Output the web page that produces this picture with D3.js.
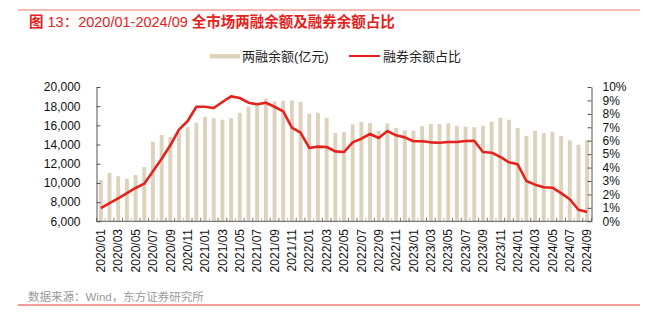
<!DOCTYPE html>
<html><head><meta charset="utf-8">
<script src="https://cdn.jsdelivr.net/npm/d3@7"></script>
<style>
html,body{margin:0;padding:0;background:#fff;}
svg{display:block;font-family:"Liberation Sans","Noto Sans CJK SC",sans-serif;}
</style></head>
<body><svg id="c" width="646" height="322"></svg>
<script>
const months = ["2020/01","2020/02","2020/03","2020/04","2020/05","2020/06","2020/07","2020/08","2020/09","2020/10","2020/11","2020/12",
"2021/01","2021/02","2021/03","2021/04","2021/05","2021/06","2021/07","2021/08","2021/09","2021/10","2021/11","2021/12",
"2022/01","2022/02","2022/03","2022/04","2022/05","2022/06","2022/07","2022/08","2022/09","2022/10","2022/11","2022/12",
"2023/01","2023/02","2023/03","2023/04","2023/05","2023/06","2023/07","2023/08","2023/09","2023/10","2023/11","2023/12",
"2024/01","2024/02","2024/03","2024/04","2024/05","2024/06","2024/07","2024/08","2024/09"];
const marginBalance = [10300,11050,10700,10450,10820,11650,14300,15000,14800,15270,15830,16270,
16900,16760,16590,16760,17320,17940,18150,18780,18500,18570,18600,18430,
17200,17320,16800,15200,15300,16100,16350,16240,15440,16200,15720,15480,
15440,15900,16140,16140,16200,15960,15880,15800,15960,16380,16800,16590,
15720,14890,15440,15200,15340,14890,14440,13980,14470];
const shortRatio = [0.99,1.36,1.71,2.1,2.48,2.8,3.72,4.66,5.66,6.82,7.47,8.53,
8.53,8.44,8.88,9.3,9.18,8.83,8.71,8.83,8.53,8.19,6.97,6.6,
5.46,5.56,5.53,5.21,5.16,5.88,6.15,6.5,6.2,6.72,6.4,6.25,
5.96,5.96,5.88,5.85,5.9,5.9,5.98,6.0,5.16,5.11,4.79,4.39,
4.24,3.0,2.73,2.53,2.5,2.1,1.64,0.86,0.69];
const leftTicks = [6000,8000,10000,12000,14000,16000,18000,20000];
const rightTicks = [0,1,2,3,4,5,6,7,8,9,10];
const xLabels = months.filter((d,i)=>i%2===0);
const seriesNames = ["两融余额(亿元)","融券余额占比"];
const titleParts = ["图","13：2020/01-2024/09 ","全市场两融余额及融券余额占比"];
const sourceText = "数据来源：Wind，东方证券研究所";

const svg = d3.select("#c");
const L=96.5, R=591.5, T=87, B=221.3;
const barColor="#ddd3bc", lineColor="#e5221c", axisColor="#555";

const x = d3.scaleBand().domain(months).range([L,R]).paddingInner(0.55).paddingOuter(0.275);
const yL = d3.scaleLinear().domain([6000,20000]).range([B,T]);
const yR = d3.scaleLinear().domain([0,10]).range([B,T]);

// decorative lines
svg.append("line").attr("x1",18).attr("x2",640).attr("y1",10).attr("y2",10).attr("stroke","#f2a39b").attr("stroke-width",1.6);
svg.append("line").attr("x1",18).attr("x2",640).attr("y1",305).attr("y2",305).attr("stroke","#e8392e").attr("stroke-width",1);

// title
const tt = svg.append("text").attr("x",29).attr("y",27).attr("fill","#e5221c").attr("font-size",14.5);
tt.append("tspan").attr("font-weight","bold").text(titleParts[0]+" ");
tt.append("tspan").text(titleParts[1]);
tt.append("tspan").attr("font-weight","bold").text(titleParts[2]);

// legend
svg.append("rect").attr("x",210).attr("y",54).attr("width",30).attr("height",4.5).attr("fill",barColor);
svg.append("text").attr("x",242).attr("y",61).attr("font-size",13).attr("fill","#222").text(seriesNames[0]);
svg.append("line").attr("x1",349).attr("x2",380).attr("y1",56).attr("y2",56).attr("stroke",lineColor).attr("stroke-width",2);
svg.append("text").attr("x",383).attr("y",61).attr("font-size",13).attr("fill","#222").text(seriesNames[1]);

// bars
svg.append("g").selectAll("rect").data(marginBalance).join("rect")
  .attr("x",(d,i)=>x(months[i])).attr("width",x.bandwidth())
  .attr("y",d=>yL(d)).attr("height",d=>B-yL(d)).attr("fill",barColor);

// left axis
const gl = svg.append("g").attr("transform",`translate(${L},0)`)
  .call(d3.axisLeft(yL).tickValues(leftTicks).tickFormat(d3.format(",")).tickSizeInner(-4).tickSizeOuter(0).tickPadding(16));
gl.select(".domain").attr("stroke",axisColor);
gl.selectAll(".tick line").attr("stroke",axisColor);
gl.selectAll("text").attr("font-size",12).attr("fill","#111").attr("font-family","Liberation Sans");

// right axis
const gr = svg.append("g").attr("transform",`translate(${R},0)`)
  .call(d3.axisRight(yR).tickValues(rightTicks).tickFormat(d=>d+"%").tickSizeInner(-4).tickSizeOuter(0).tickPadding(11));
gr.select(".domain").attr("stroke",axisColor);
gr.selectAll(".tick line").attr("stroke",axisColor);
gr.selectAll("text").attr("font-size",12).attr("fill","#111").attr("font-family","Liberation Sans");

// bottom axis
svg.append("line").attr("x1",L).attr("x2",R).attr("y1",B).attr("y2",B).attr("stroke",axisColor);
const step = x.step();
svg.append("g").selectAll("line").data(months.concat(["end"])).join("line")
  .attr("x1",(d,i)=>L+i*step).attr("x2",(d,i)=>L+i*step)
  .attr("y1",B).attr("y2",B-3.5).attr("stroke",(d,i)=>i%3===1?"#aaa":axisColor).attr("stroke-width",0.8);
svg.append("g").selectAll("text").data(xLabels).join("text")
  .attr("transform",d=>`translate(${x(d)+x.bandwidth()/2},229) rotate(-90)`)
  .attr("text-anchor","end").attr("dy","0.35em").attr("font-size",12).attr("fill","#111").text(d=>d);

// line
const line = d3.line().x((d,i)=>x(months[i])+x.bandwidth()/2).y(d=>yR(d));
svg.append("path").datum(shortRatio).attr("d",line).attr("fill","none")
  .attr("stroke",lineColor).attr("stroke-width",2.6).attr("stroke-linejoin","round");

// source
svg.append("text").attr("x",28).attr("y",301).attr("font-size",11.5).attr("fill","#9a9a9a").text(sourceText);
</script></body></html>
